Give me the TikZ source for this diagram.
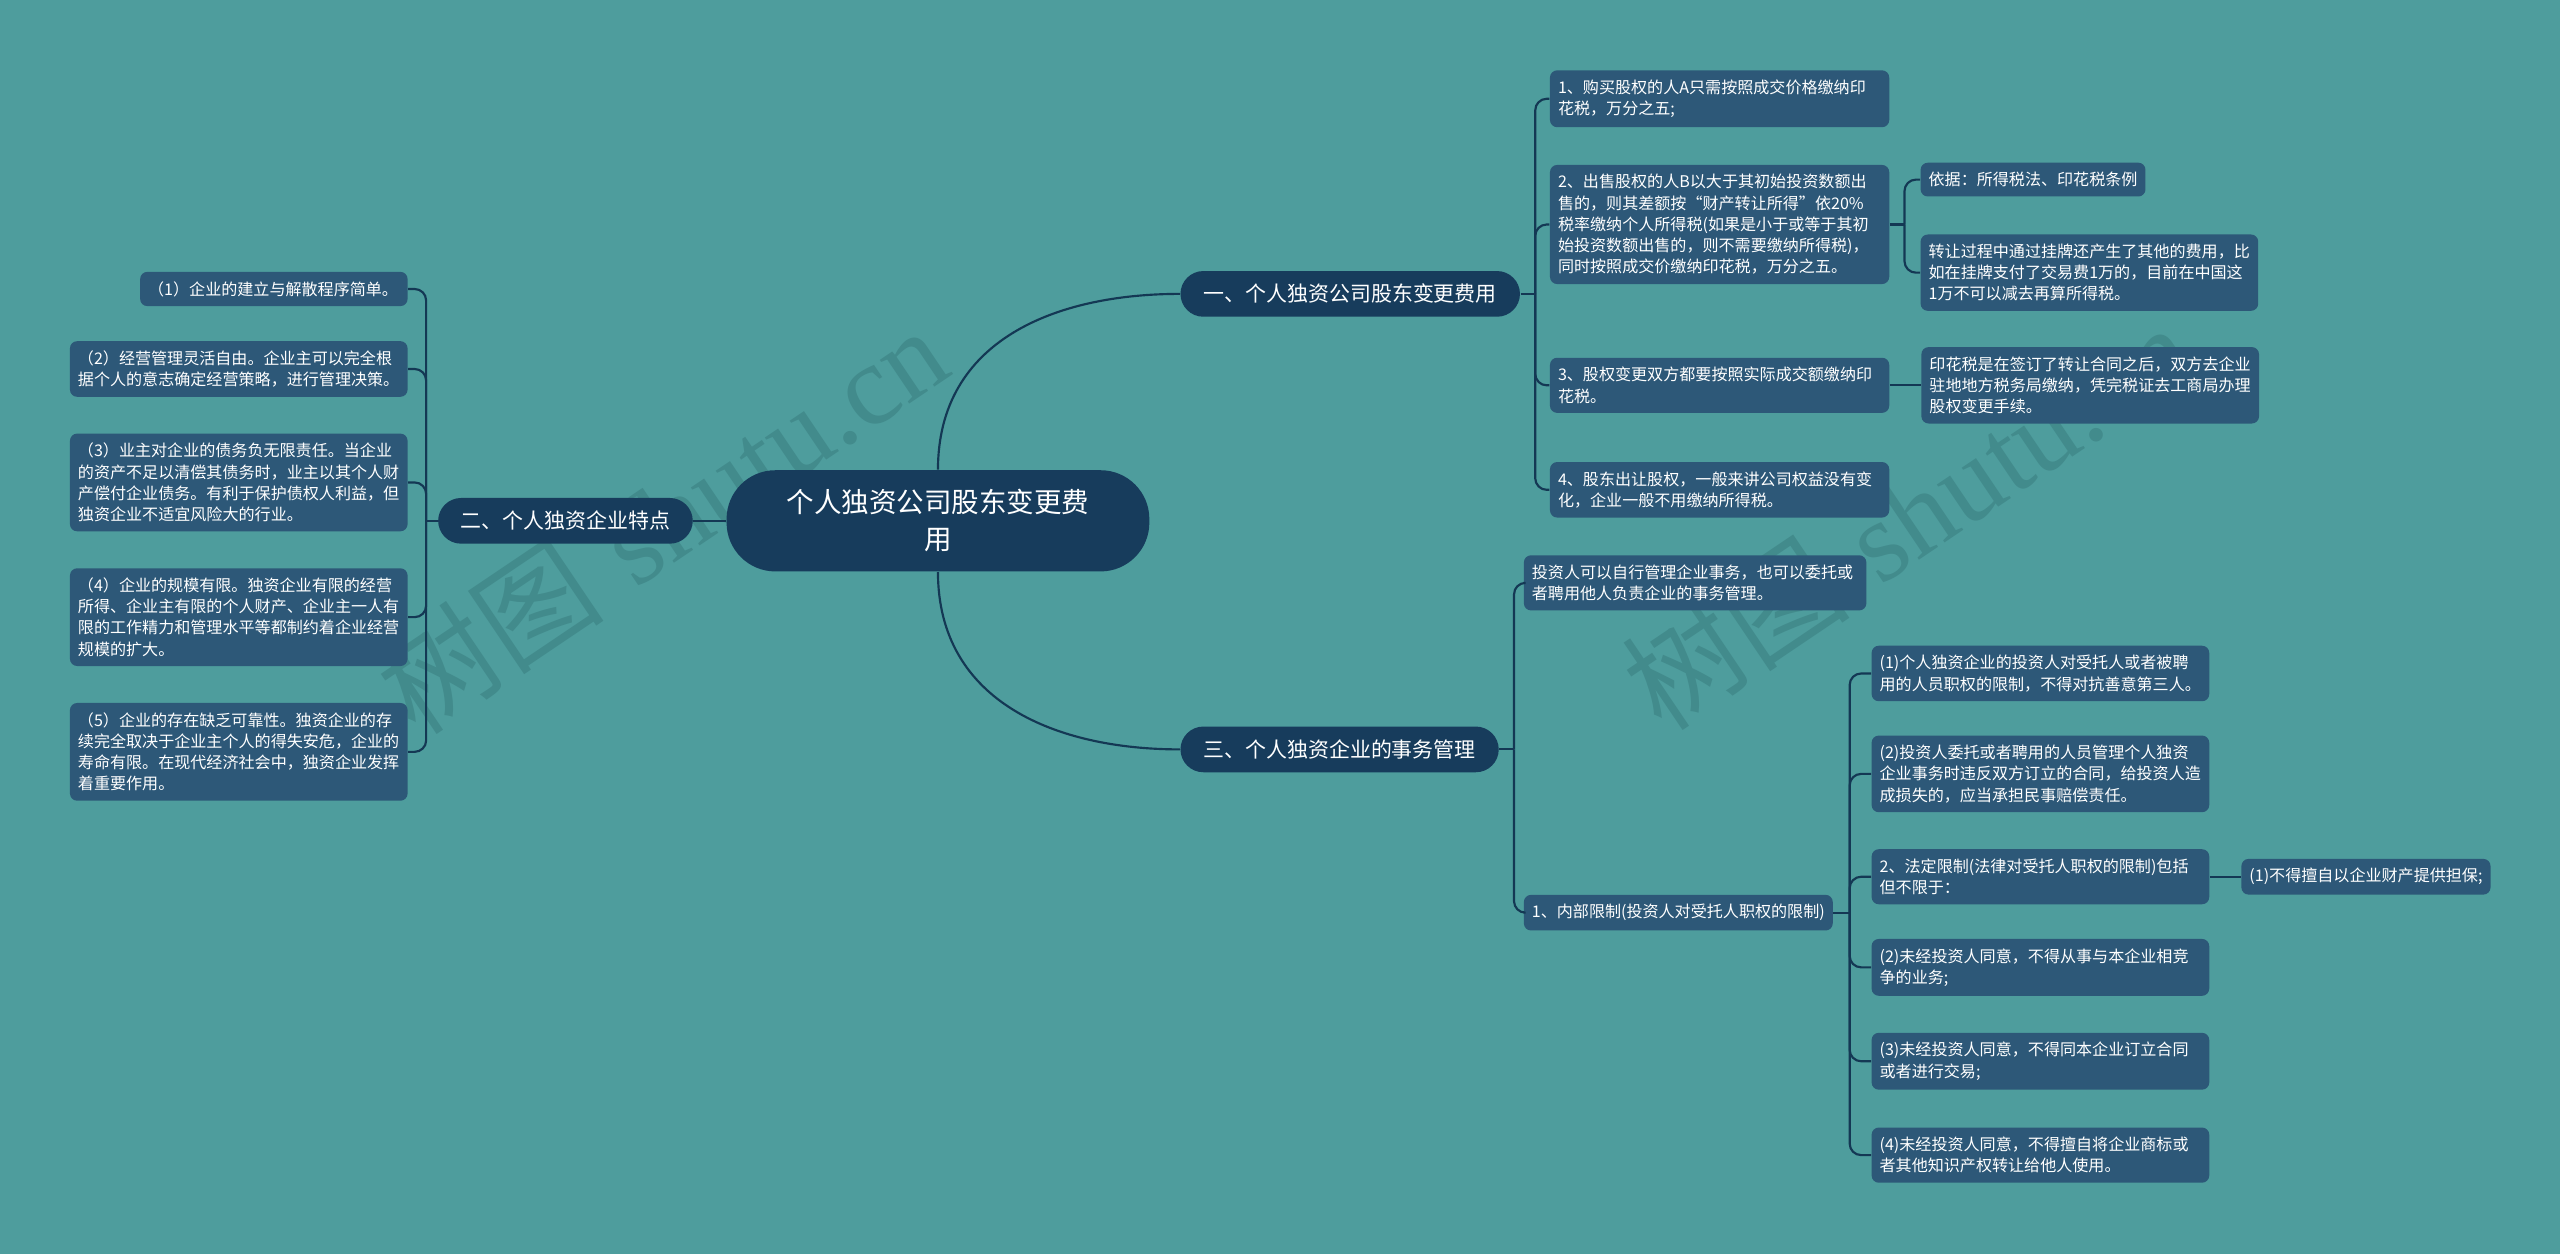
\documentclass[tikz,border=0pt]{standalone}
\usepackage{fontspec}
\newfontfamily\cjk{Noto Sans CJK SC}
\newfontfamily\wmserif{Liberation Serif}
\usetikzlibrary{positioning, calc}

\definecolor{bgteal}{RGB}{78,157,157}
\definecolor{rootblue}{RGB}{23,60,92}
\definecolor{leafblue}{RGB}{45,88,120}
\definecolor{linkblue}{RGB}{20,56,84}
\definecolor{wmark}{RGB}{66,139,140}

\begin{document}
\begin{tikzpicture}[
      x=0.02cm, y=-0.02cm,
      root/.style={rectangle, rounded corners=17pt, fill=rootblue, text=white, align=center,
        minimum width=5.18cm, minimum height=1.24cm, font=\cjk\fontsize{9.6pt}{13pt}\selectfont},
      branch/.style={rectangle, rounded corners=8pt, fill=rootblue, text=white,
        minimum height=0.56cm, font=\cjk\fontsize{7.3pt}{9pt}\selectfont},
      leaf/.style={rectangle, rounded corners=2.5pt, fill=leafblue, text=white, align=left,
        text width=#1, inner xsep=2.8pt, inner ysep=3.3pt, font=\cjk\fontsize{5.6pt}{7.4pt}\selectfont},
      leaf/.default=3.94cm,
      tag/.style={rectangle, rounded corners=2.5pt, fill=leafblue, text=white,
        inner xsep=2.8pt, inner ysep=3.3pt, font=\cjk\fontsize{5.6pt}{7.4pt}\selectfont},
      link/.style={draw=linkblue, line width=0.75pt},
      fork/.style={link, rounded corners=4pt},
      watermark/.style={text=wmark, rotate=34, font=\fontsize{40pt}{40pt}\selectfont}
    ]

    \fill[bgteal] (0,0) rectangle (1568,768);
    \useasboundingbox (0,0) rectangle (1568,768);

    % watermarks
    \node[watermark] (wm1) at (405,318) {{\cjk 树图} {\wmserif shutu.cn}};
    \node[watermark] (wm2) at (1168,316) {{\cjk 树图} {\wmserif shutu.cn}};

    \node[root] (root) at (574.5,319) {个人独资公司股东变更费\\用};

    \node[branch, minimum width=4.16cm] (b1) at (827,180) {一、个人独资公司股东变更费用};
    \node[branch, minimum width=3.12cm, left=0.4cm of root] (b2) {二、个人独资企业特点};
    \node[branch, minimum width=3.9cm] (b3) at (820.5,459) {三、个人独资企业的事务管理};

    % branch one
    \node[leaf=3.96cm, anchor=west] (c1) at (949,60.5) {1、购买股权的人A只需按照成交价格缴纳印\\花税，万分之五;};
    \node[leaf=3.96cm, anchor=west] (c2) at (949,137.5) {2、出售股权的人B以大于其初始投资数额出\\售的，则其差额按“财产转让所得”依20\%\\税率缴纳个人所得税(如果是小于或等于其初\\始投资数额出售的，则不需要缴纳所得税)，\\同时按照成交价缴纳印花税，万分之五。};
    \node[leaf=3.96cm, anchor=west] (c3) at (949,236) {3、股权变更双方都要按照实际成交额缴纳印\\花税。};
    \node[leaf=3.96cm, anchor=west] (c4) at (949,300) {4、股东出让股权，一般来讲公司权益没有变\\化，企业一般不用缴纳所得税。};

    \node[tag, anchor=west] (d1) at (1176,110) {依据：所得税法、印花税条例};
    \node[leaf, anchor=west] (d2) at (1176,167) {转让过程中通过挂牌还产生了其他的费用，比\\如在挂牌支付了交易费1万的，目前在中国这\\1万不可以减去再算所得税。};
    \node[leaf, right=0.38cm of c3] (d3) {印花税是在签订了转让合同之后，双方去企业\\驻地地方税务局缴纳，凭完税证去工商局办理\\股权变更手续。};

    % branch two
    \node[leaf=3.08cm, anchor=east] (l1) at (250,177) {（1）企业的建立与解散程序简单。};
    \node[leaf, anchor=east] (l2) at (250,226) {（2）经营管理灵活自由。企业主可以完全根\\据个人的意志确定经营策略，进行管理决策。};
    \node[leaf, anchor=east] (l3) at (250,295.5) {（3）业主对企业的债务负无限责任。当企业\\的资产不足以清偿其债务时，业主以其个人财\\产偿付企业债务。有利于保护债权人利益，但\\独资企业不适宜风险大的行业。};
    \node[leaf, anchor=east] (l4) at (250,378) {（4）企业的规模有限。独资企业有限的经营\\所得、企业主有限的个人财产、企业主一人有\\限的工作精力和管理水平等都制约着企业经营\\规模的扩大。};
    \node[leaf, anchor=east] (l5) at (250,460.5) {（5）企业的存在缺乏可靠性。独资企业的存\\续完全取决于企业主个人的得失安危，企业的\\寿命有限。在现代经济社会中，独资企业发挥\\着重要作用。};

    % branch three
    \node[leaf=4.0cm, anchor=west] (e1) at (933,357) {投资人可以自行管理企业事务，也可以委托或\\者聘用他人负责企业的事务管理。};
    \node[tag, anchor=west] (e2) at (933,559) {1、内部限制(投资人对受托人职权的限制)};

    \node[leaf, anchor=west] (f1) at (1146,412.5) {(1)个人独资企业的投资人对受托人或者被聘\\用的人员职权的限制，不得对抗善意第三人。};
    \node[leaf, anchor=west] (f2) at (1146,474) {(2)投资人委托或者聘用的人员管理个人独资\\企业事务时违反双方订立的合同，给投资人造\\成损失的，应当承担民事赔偿责任。};
    \node[leaf, anchor=west] (f3) at (1146,537) {2、法定限制(法律对受托人职权的限制)包括\\但不限于：};
    \node[leaf, anchor=west] (f4) at (1146,592.5) {(2)未经投资人同意，不得从事与本企业相竞\\争的业务;};
    \node[leaf, anchor=west] (f5) at (1146,650) {(3)未经投资人同意，不得同本企业订立合同\\或者进行交易;};
    \node[leaf, anchor=west] (f6) at (1146,707.5) {(4)未经投资人同意，不得擅自将企业商标或\\者其他知识产权转让给他人使用。};
    \node[tag, right=0.38cm of f3] (g1) {(1)不得擅自以企业财产提供担保;};

    % junctions
    \coordinate (j1) at ($(b1.east)+(9,0)$);
    \coordinate (j2) at ($(b2.west)+(-7,0)$);
    \coordinate (j3) at ($(b3.east)+(9,0)$);
    \coordinate (jc2) at ($(c2.east)+(9,0)$);
    \coordinate (je2) at ($(e2.east)+(10,0)$);

    % root links
    \draw[link] (root.north) .. controls +(0,-80) and +(-75,0) .. (b1.west);
    \draw[link] (root.south) .. controls +(0,80) and +(-75,0) .. (b3.west);
    \draw[link] (root.west) -- (b2.east);

    \draw[link] (b1.east) -- (j1);
    \foreach \n in {c1,c2,c3,c4}
      \draw[fork] (j1) |- (\n.west);

    \draw[link] (c2.east) -- (jc2);
    \foreach \n in {d1,d2}
      \draw[fork] (jc2) |- (\n.west);
    \draw[link] (c3.east) -- (d3.west);

    \draw[link] (b2.west) -- (j2);
    \foreach \n in {l1,l2,l3,l4,l5}
      \draw[fork] (j2) |- (\n.east);

    \draw[link] (b3.east) -- (j3);
    \foreach \n in {e1,e2}
      \draw[fork] (j3) |- (\n.west);

    \draw[link] (e2.east) -- (je2);
    \foreach \n in {f1,f2,f3,f4,f5,f6}
      \draw[fork] (je2) |- (\n.west);
    \draw[link] (f3.east) -- (g1.west);
  \end{tikzpicture}
\end{document}
